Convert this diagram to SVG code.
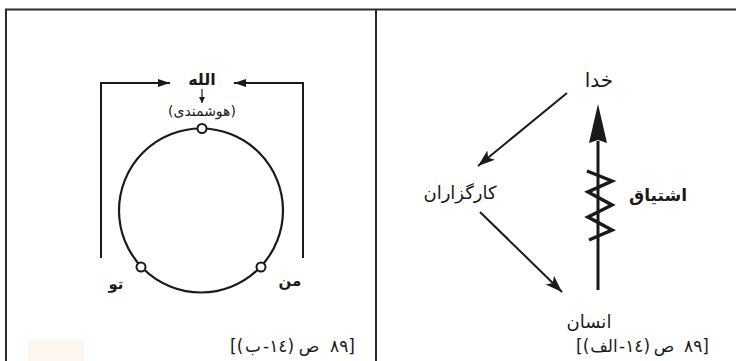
<svg xmlns="http://www.w3.org/2000/svg" width="736" height="361" viewBox="0 0 736 361">
<style>
  text { font-family: "DejaVu Sans", "Noto Sans", sans-serif; fill: #1a1a1a; text-anchor: middle; }
  .b { font-weight: bold; }
  .cap { font-size: 17px; }
  .ov { direction: ltr; unicode-bidi: bidi-override; text-anchor: start; }
  .num { letter-spacing: 4px; }
  .frame { stroke: #2a2a2a; stroke-width: 2; fill: none; }
  .ln { stroke: #1a1a1a; fill: none; }
</style>
<defs>
  <marker id="ahS" markerUnits="userSpaceOnUse" markerWidth="14" markerHeight="10" refX="12" refY="4" orient="auto">
    <path d="M0,0 L12,4 L0,8 Z" fill="#1a1a1a"/>
  </marker>
  <marker id="ahT" markerUnits="userSpaceOnUse" markerWidth="8" markerHeight="8" refX="6" refY="3" orient="auto">
    <path d="M0,0 L6,3 L0,6 Z" fill="#1a1a1a"/>
  </marker>
  <marker id="ahL" markerUnits="userSpaceOnUse" markerWidth="20" markerHeight="14" refX="17" refY="6" orient="auto">
    <path d="M0,0 L17,6 L0,12 L4,6 Z" fill="#1a1a1a"/>
  </marker>
</defs>
<rect width="736" height="361" fill="#ffffff"/>
<rect x="28" y="340" width="56" height="21" fill="#fcf6ee"/>
<g id="frame">
  <path class="frame" d="M736,9.5 H6 V361 M376,9.5 V361"/>
</g>

<g id="connectors">
  <path class="ln" stroke-width="2" d="M101,258 V83 H170" marker-end="url(#ahS)"/>
  <path class="ln" stroke-width="2" d="M303,258 V83 H234" marker-end="url(#ahS)"/>
  <line class="ln" stroke-width="1.2" x1="202" y1="89" x2="202" y2="103" marker-end="url(#ahT)"/>
  <line class="ln" stroke-width="2" x1="567" y1="93" x2="478" y2="166" marker-end="url(#ahL)"/>
  <line class="ln" stroke-width="2" x1="480" y1="212" x2="562" y2="292" marker-end="url(#ahL)"/>
  <line class="ln" stroke-width="3" x1="598" y1="141" x2="598" y2="290"/>
  <polygon points="598,104 607,143 598,140 589,143" fill="#1a1a1a"/>
  <polyline class="ln" stroke-width="3.5" stroke-linejoin="miter" points="587,171 612,181 588,192 612,205 588,217 612,230 589,240"/>
</g>

<g id="circle">
  <circle class="ln" stroke-width="2.2" cx="201" cy="210.5" r="82"/>
</g>
<g id="node-top">
  <circle cx="202" cy="128.5" r="4.5" fill="#fff" stroke="#1a1a1a" stroke-width="2"/>
</g>
<g id="node-to">
  <circle cx="141" cy="267" r="4.5" fill="#fff" stroke="#1a1a1a" stroke-width="2"/>
  <text class="b" x="116" y="289" font-size="15">تو</text>
</g>
<g id="node-man">
  <circle cx="261" cy="267" r="4.5" fill="#fff" stroke="#1a1a1a" stroke-width="2"/>
  <text class="b" x="290" y="286" font-size="15">من</text>
</g>
<g id="node-allah">
  <text class="b" x="202" y="85" font-size="16">الله</text>
  <text x="202" y="116" font-size="14">(هوشمندی)</text>
</g>
<g id="caption-b">
  <text class="cap ov" x="230" y="352">&#x200E;[(</text>
  <text class="cap" x="253" y="352">ب</text>
  <text class="cap ov" x="263" y="352">&#x200E;-١٤)</text>
  <text class="cap" x="309" y="352">ص</text>
  <text class="cap ov num" x="330" y="352">&#x200E;٨٩]</text>
</g>

<g id="node-khoda">
  <text x="599" y="87" font-size="20">خدا</text>
</g>
<g id="node-kargozaran">
  <text x="460" y="199" font-size="18">کارگزاران</text>
</g>
<g id="node-ensan">
  <text x="589" y="328" font-size="18">انسان</text>
</g>
<g id="label-eshtiagh">
  <text class="b" x="658" y="201" font-size="17">اشتیاق</text>
</g>
<g id="caption-alef">
  <text class="cap ov" x="576" y="352">&#x200E;[(</text>
  <text class="cap" x="604" y="352">الف</text>
  <text class="cap ov" x="619" y="352">&#x200E;-١٤)</text>
  <text class="cap" x="664" y="352">ص</text>
  <text class="cap ov num" x="684" y="352">&#x200E;٨٩]</text>
</g>
</svg>
